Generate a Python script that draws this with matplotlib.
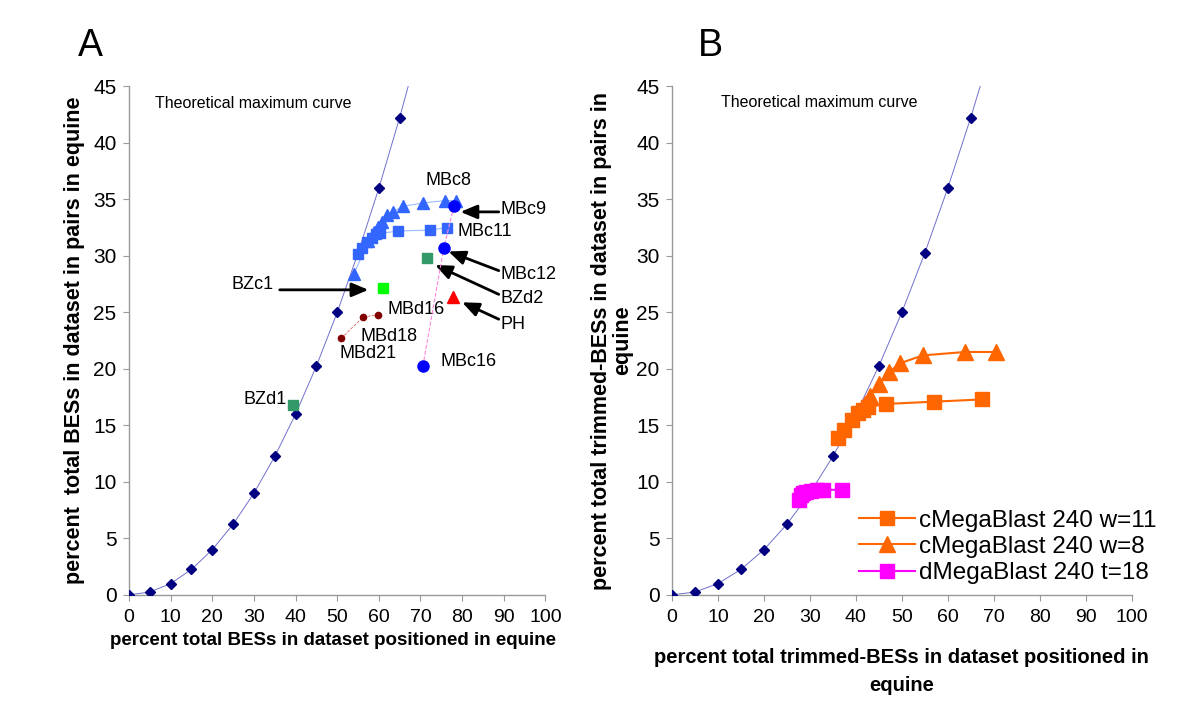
import matplotlib
matplotlib.use("Agg")
import matplotlib.pyplot as plt

plt.rcParams['font.family'] = ['Liberation Sans', 'DejaVu Sans']

# theoretical maximum curve (both panels)
theory_x = [0, 5, 10, 15, 20, 25, 30, 35, 40, 45, 50, 55, 60, 65]
theory_y = [0, 0.25, 1.0, 2.25, 4.0, 6.25, 9.0, 12.25, 16.0, 20.25, 25.0, 30.25, 36.0, 42.25]
theory_line_x = theory_x + [70]
theory_line_y = theory_y + [49.0]

# panel A
mbc_tri_x = [54.0, 57.5, 58.8, 59.8, 60.7, 61.9, 63.3, 65.9, 70.7, 76.0, 78.5]
mbc_tri_y = [28.4, 31.3, 32.1, 32.6, 33.0, 33.6, 33.9, 34.4, 34.7, 34.9, 34.9]
mbc_sq_x = [55.1, 55.9, 57.1, 58.3, 59.2, 60.3, 64.6, 72.3, 76.3]
mbc_sq_y = [30.2, 30.7, 31.2, 31.6, 31.9, 32.0, 32.2, 32.3, 32.5]
mbc_dot_x = [78.0, 75.6, 70.6]
mbc_dot_y = [34.4, 30.7, 20.3]
mbd_x = [50.9, 56.3, 59.9]
mbd_y = [22.7, 24.6, 24.8]
bzd_x = [39.5, 71.5]
bzd_y = [16.8, 29.8]
bzc1 = (61.1, 27.2)
ph = (77.8, 26.4)

# panel B
w11_x = [36.2, 37.5, 39.1, 40.4, 41.5, 42.6, 46.5, 57.0, 67.5]
w11_y = [13.9, 14.6, 15.5, 16.1, 16.4, 16.6, 16.9, 17.1, 17.3]
w8_x = [42.0, 43.1, 45.0, 47.2, 49.6, 54.6, 63.8, 70.5]
w8_y = [16.9, 17.6, 18.7, 19.7, 20.5, 21.2, 21.5, 21.5]
t18_x = [27.6, 28.0, 28.5, 29.2, 30.2, 31.5, 32.8, 36.9]
t18_y = [8.4, 8.8, 9.0, 9.1, 9.2, 9.3, 9.3, 9.3]

fig = plt.figure(figsize=(12, 7.09), dpi=100)
ax1 = fig.add_axes([0.1075, 0.161, 0.347, 0.717])
ax2 = fig.add_axes([0.56, 0.161, 0.383, 0.717])

for ax in (ax1, ax2):
    ax.plot(theory_line_x, theory_line_y, color='#7070cc', lw=0.7, zorder=1)
    ax.plot(theory_x, theory_y, 'D', color='#000080', ms=5, zorder=3)
    ax.set_xlim(0, 100)
    ax.set_ylim(0, 45)
    ax.set_xticks(range(0, 101, 10))
    ax.set_yticks(range(0, 46, 5))
    for s in ('top', 'right'):
        ax.spines[s].set_visible(False)
    for s in ('left', 'bottom'):
        ax.spines[s].set_color('#999999')
        ax.spines[s].set_linewidth(1)
    ax.tick_params(direction='out', length=4, color='#999999')
    ax.tick_params(axis='y', labelsize=15, pad=5)
    ax.tick_params(axis='x', labelsize=14, pad=6)

# ---- panel A
ax1.plot(mbc_tri_x, mbc_tri_y, '^-', color='#99bbff', mfc='#3366ff', mec='#3366ff',
         ms=9, lw=0.8, zorder=4)
ax1.plot(mbc_sq_x, mbc_sq_y, 's-', color='#99bbff', mfc='#3366ff', mec='#3366ff',
         ms=7.5, lw=0.8, zorder=4)
ax1.plot(mbc_dot_x, mbc_dot_y, 'o--', color='#ff88dd', mfc='#0000ff', mec='#0000ff',
         ms=8, lw=0.8, zorder=5)
ax1.plot(mbd_x, mbd_y, 'o--', color='#dd6666', mfc='#800000', mec='#800000',
         ms=4.5, lw=0.6, zorder=5)
ax1.plot(bzd_x, bzd_y, 's', color='#339966', ms=7.5, zorder=5)
ax1.plot(*bzc1, 's', color='#00ff00', ms=7.5, zorder=5)
ax1.plot(*ph, '^', color='#ff0000', ms=9, zorder=5)

ax1.text(6.2, 43.5, 'Theoretical maximum curve', fontsize=11.5, va='center')
lab = dict(fontsize=13, va='center', ha='center')
ax1.text(76.7, 36.7, 'MBc8', **lab)
ax1.text(85.5, 32.2, 'MBc11', **lab)
ax1.text(69.0, 25.3, 'MBd16', **lab)
ax1.text(62.5, 22.9, 'MBd18', **lab)
ax1.text(57.3, 21.4, 'MBd21', **lab)
ax1.text(81.5, 20.7, 'MBc16', **lab)
ax1.text(32.8, 17.3, 'BZd1', **lab)

arrow = dict(arrowstyle='-|>,head_length=1.0,head_width=0.42', color='black', lw=2,
             shrinkA=0, shrinkB=0)
ax1.annotate('', xy=(79.6, 33.9), xytext=(88.8, 33.9), arrowprops=arrow)
ax1.text(89.3, 34.1, 'MBc9', fontsize=13, va='center', ha='left')
ax1.annotate('', xy=(76.7, 30.4), xytext=(88.8, 28.7), arrowprops=arrow)
ax1.text(89.3, 28.4, 'MBc12', fontsize=13, va='center', ha='left')
ax1.annotate('', xy=(73.5, 29.2), xytext=(88.8, 26.6), arrowprops=arrow)
ax1.text(89.3, 26.2, 'BZd2', fontsize=13, va='center', ha='left')
ax1.annotate('', xy=(80.0, 25.9), xytext=(88.8, 24.4), arrowprops=arrow)
ax1.text(89.3, 23.9, 'PH', fontsize=13, va='center', ha='left')
ax1.annotate('', xy=(57.5, 27.0), xytext=(36.2, 27.0), arrowprops=arrow)
ax1.text(34.8, 27.5, 'BZc1', fontsize=13, va='center', ha='right')

ax1.set_xlabel('percent total BESs in dataset positioned in equine', fontsize=13.5,
               fontweight='bold')
ax1.xaxis.set_label_coords(0.49, -0.074)
ax1.set_ylabel('percent  total BESs in dataset in pairs in equine', fontsize=15.5,
               fontweight='bold', labelpad=6)

# ---- panel B
ax2.plot(w11_x, w11_y, 's-', color='#ff6600', ms=10, lw=1.5, zorder=4,
         label='cMegaBlast 240 w=11')
ax2.plot(w8_x, w8_y, '^-', color='#ff6600', ms=11, lw=1.5, zorder=4,
         label='cMegaBlast 240 w=8')
ax2.plot(t18_x, t18_y, 's-', color='#ff00ff', ms=10, lw=1.5, zorder=4,
         label='dMegaBlast 240 t=18')
ax2.text(10.7, 43.6, 'Theoretical maximum curve', fontsize=11.5, va='center')

handles = ax2.lines[-3:]
ax2.legend(handles=handles, loc='upper left', bbox_to_anchor=(0.716, 0.281),
           bbox_transform=fig.transFigure, frameon=False, fontsize=17.5,
           handlelength=2.3, handletextpad=0.15, labelspacing=0.17,
           borderpad=0, borderaxespad=0)

ax2.set_xlabel('percent total trimmed-BESs in dataset positioned in\nequine',
               fontsize=14.5, fontweight='bold', labelpad=16, linespacing=1.6)
ax2.set_ylabel('percent total trimmed-BESs in dataset in pairs in\nequine',
               fontsize=15.5, fontweight='bold', labelpad=2, linespacing=1.05)

fig.text(0.075, 0.935, 'A', fontsize=27, ha='center', va='center')
fig.text(0.592, 0.935, 'B', fontsize=27, ha='center', va='center')

fig.savefig('out.png', dpi=100)
